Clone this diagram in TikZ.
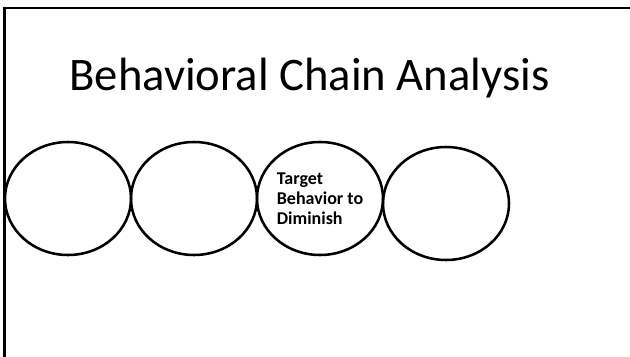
\documentclass[tikz,border=0pt]{standalone}
\usepackage{fontspec}
\setmainfont{Carlito}
\usetikzlibrary{shapes.geometric}
\begin{document}
\begin{tikzpicture}[x=0.75pt,y=-0.75pt,
  framestyle/.style={line width=1.9pt,draw=black},
  chainlink/.style={ellipse,draw=black,line width=1.9pt,inner sep=0pt,
    minimum width=94.5pt,minimum height=84.75pt,
    font=\fontsize{13.5}{15}\selectfont\bfseries,align=left},
  titlestyle/.style={font=\fontsize{35}{40}\selectfont,anchor=base,inner sep=0pt}]
\useasboundingbox (0,0) rectangle (630,356);
\fill[white] (0,0) rectangle (630,356);
\coordinate (fbl) at (4.7,360);
\coordinate (ftl) at (4.7,8);
\coordinate (ftr) at (634,8);
\draw[framestyle] (fbl) -- (ftl) -- (ftr);
\node[titlestyle] (title) at (309.5,90.7) {Behavioral Chain Analysis};
\node[chainlink] (c1) at (68,198.5) {};
\node[chainlink] (c2) at (194,198.5) {};
\node[chainlink] (c3) at (320,198.5) {Target\\Behavior to\\Diminish};
\node[chainlink] (c4) at (446,203.5) {};
\end{tikzpicture}
\end{document}
